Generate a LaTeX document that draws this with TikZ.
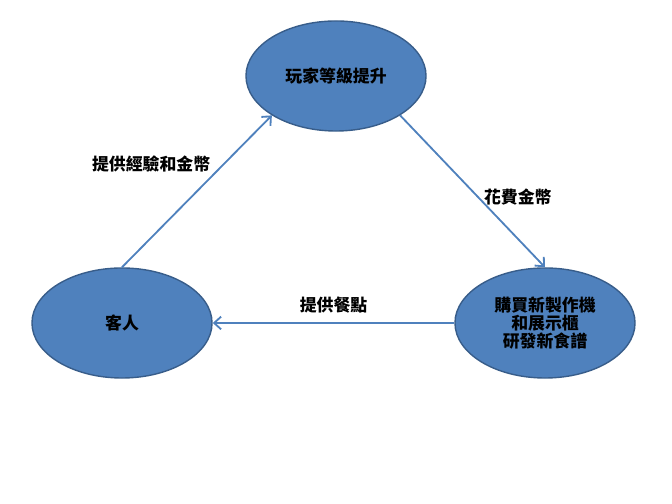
\documentclass[tikz,border=0pt]{standalone}
\usepackage{fontspec}
\setmainfont{Noto Sans CJK TC}
\usetikzlibrary{positioning,shapes,arrows.meta}
\definecolor{boxblue}{HTML}{4F81BD}
\definecolor{rimblue}{HTML}{385D8A}
\tikzset{
	x=0.025cm, y=0.025cm,
	state/.style ={ellipse, draw=rimblue, fill=boxblue, line width=1pt, minimum width=4.5cm, minimum height=2.75cm, align=center, font=\fontsize{12}{13}\selectfont\bfseries}, % the three game states
	flow/.style={-{Straight Barb[length=5pt,width=9pt]}, draw=boxblue, line width=1.3pt},
	el/.style = {inner sep=2pt, font=\fontsize{12}{13}\selectfont\bfseries}
}
\begin{document}
\begin{tikzpicture}
    \useasboundingbox (0,0) rectangle (672,504);
    \node[state] (level) at (336,428) {玩家等級提升};
    \node[state] (shop) at (545,181) {購買新製作機\\和展示櫃\\研發新食譜};
    \node[state] (guest) at (122,181) {客人};
    % cycle of the game
    \draw[flow] (guest.north) -- (level.south west)
        node[el, pos=0.68, left=0.25cm] (give) {提供經驗和金幣};
    \draw[flow] (level.south east) -- (shop.north)
        node[el, pos=0.54, right=0.05cm] (spend) {花費金幣};
    \draw[flow] (shop.west) -- (guest.east)
        node[el, midway, above=0.15cm] (serve) {提供餐點};
\end{tikzpicture}
\end{document}
